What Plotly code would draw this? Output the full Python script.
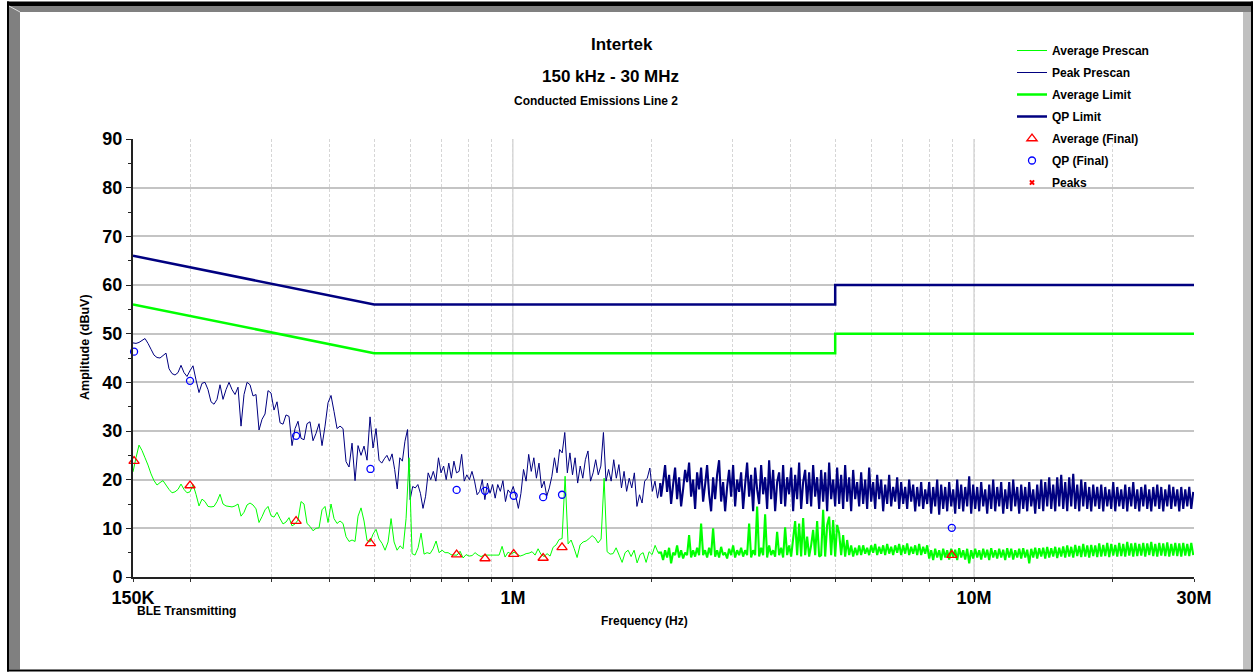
import numpy as np
import plotly.graph_objects as go

FONT = "Liberation Sans"

# ---------------- limit lines (dBuV) ----------------
limit_freq_hz = [150e3, 500e3, 5e6, 5e6, 30e6]
qp_limit_dbuv = [66, 56, 56, 60, 60]
avg_limit_dbuv = [56, 46, 46, 50, 50]

# ---------------- prescan sweep spans (Hz) ----------------
peak_lo_span = (150.0e3, 512.5e3)
peak_mid_span = (519.5e3, 2.086e6)
avg_lo_span = (150.0e3, 512.5e3)
avg_mid_span = (520.3e3, 2.065e6)
hi_span = (2.096e6, 29.89e6)

# ---------------- peak prescan (dBuV) ----------------
peak_lo_dbuv = [
    48.1, 48.0, 48.2, 48.6, 49.0, 48.0, 46.8, 45.6, 45.1, 45.0,
    45.5, 46.0, 42.8, 41.8, 41.5, 42.0, 43.5, 42.0, 41.2, 42.4,
    43.4, 40.5, 37.9, 39.8, 40.0, 38.5, 36.0, 35.5, 36.5, 39.5,
    36.5, 38.5, 40.0, 38.5, 37.5, 39.0, 31.0, 37.5, 40.0, 39.5,
    37.2, 37.5, 30.2, 32.4, 33.5, 38.3, 37.8, 34.3, 36.0, 31.7,
    31.4, 33.3, 33.0, 27.0, 30.5, 32.0, 28.5, 28.2, 31.5, 31.9,
    28.0, 29.5, 31.5, 27.0, 31.0, 35.8, 37.3, 34.0, 30.5, 31.0,
    30.5, 23.7, 22.6, 27.5, 19.8, 27.0, 25.0, 26.9, 24.0, 32.9,
    26.5, 30.5, 24.0,
]
peak_mid_dbuv = [
    23.4, 24.3, 25.0, 23.8, 25.3, 22.1, 18.1, 24.5, 23.8, 27.9,
    30.3, 15.9, 18.6, 18.3, 19.0, 17.2, 14.1, 16.6, 21.4, 20.0,
    21.7, 19.7, 24.5, 21.4, 22.8, 20.0, 23.4, 20.3, 23.8, 21.4,
    21.7, 25.2, 19.7, 21.0, 20.0, 21.7, 19.7, 16.9, 17.6, 20.0,
    15.9, 19.3, 17.2, 19.0, 16.2, 19.0, 17.6, 19.8, 15.5, 17.9,
    17.2, 18.6, 16.6, 14.1, 17.2, 22.1, 19.7, 25.2, 21.7, 24.5,
    20.3, 23.4, 18.3, 19.7, 16.6, 18.3, 20.7, 24.5, 21.4, 26.2,
    25.5, 29.7, 21.4, 25.5, 21.0, 24.5, 19.3, 22.8, 20.3, 24.1,
    25.9, 19.7, 21.4, 24.1, 21.0, 22.8, 29.7, 19.7, 22.1, 19.7,
    24.1, 20.3, 23.1, 18.3, 21.7, 17.6, 20.3, 18.3, 21.4, 14.5,
    16.9, 15.2, 19.7, 20.3, 22.4, 17.6, 19.7, 16.2, 19.3,
]
peak_hi_dbuv = [
    16.5, 19.5, 23.0, 17.5, 21.0, 15.0, 19.0, 22.5, 16.0, 20.5, 14.5, 18.0, 22.0, 19.5, 23.5, 16.5, 20.0, 14.0, 21.5, 18.0,
    22.5, 15.5, 19.0, 23.0, 17.0, 13.5, 20.5, 16.0, 21.0, 24.0, 15.5, 19.5, 13.5, 18.5, 22.0, 16.5, 23.0, 14.5, 20.0, 17.5,
    21.5, 14.0, 19.0, 23.5, 16.5, 21.0, 13.5, 22.5, 18.0, 15.0, 23.0, 17.0, 20.5, 14.0, 24.0, 16.0, 22.0, 13.5, 19.5, 21.5,
    15.0, 23.0, 14.5, 20.5, 17.0, 22.5, 13.5, 21.0, 16.0, 23.5, 14.0, 19.5, 22.0, 15.0, 21.5, 14.5, 23.0, 16.5, 20.5, 14.0,
    22.0, 15.5, 21.5, 13.5, 23.5, 16.0, 20.0, 14.5, 22.5, 15.0, 21.0, 14.0, 23.0, 15.5, 20.5, 13.5, 22.0, 16.0, 19.5, 14.5,
    21.5, 15.0, 20.0, 14.0, 22.5, 15.5, 19.5, 14.0, 21.0, 16.0, 20.0, 13.5, 19.0, 15.0, 21.0, 14.5, 18.5, 15.5, 20.5, 14.0,
    19.5, 15.0, 18.5, 14.0, 20.0, 15.5, 19.0, 13.5, 18.5, 14.5, 19.5, 14.0, 18.0, 15.0, 19.5, 13.0, 18.5, 14.5, 20.0, 12.8,
    19.0, 14.0, 18.5, 13.5, 19.5, 14.5, 18.0, 13.0, 20.0, 14.0, 19.0, 13.5, 18.5, 14.5, 20.7, 13.0, 19.0, 14.0, 18.5, 13.5,
    19.5, 14.5, 18.0, 13.0, 19.0, 14.0, 20.0, 13.5, 18.5, 14.5, 19.5, 13.0, 18.0, 14.0, 19.5, 13.5, 20.0, 14.5, 18.5, 13.0,
    19.0, 14.0, 18.5, 13.5, 19.5, 14.5, 18.0, 13.0, 19.0, 14.0, 20.0, 13.5, 19.5, 14.5, 20.5, 14.0, 19.0, 13.5, 20.5, 14.5,
    21.0, 14.0, 19.5, 13.5, 20.5, 14.5, 21.2, 14.0, 19.0, 13.5, 20.0, 14.5, 19.5, 14.0, 18.5, 13.5, 19.0, 14.5, 18.5, 14.0,
    19.0, 13.5, 18.5, 14.5, 18.0, 14.0, 19.5, 13.5, 18.5, 14.5, 18.0, 14.0, 19.0, 13.5, 18.5, 14.5, 19.5, 14.0, 18.0, 13.5,
    18.5, 14.5, 19.0, 14.0, 18.0, 13.5, 18.5, 14.5, 19.0, 14.0, 18.5, 13.5, 18.0, 14.5, 19.0, 14.0, 18.5, 14.5, 18.0, 13.5,
    18.5, 14.0, 18.0, 14.5, 18.5, 14.0, 17.5,
]

# ---------------- average prescan (dBuV) ----------------
avg_lo_dbuv = [
    21.6, 24.5, 27.1, 26.0, 24.5, 23.0, 21.2, 19.8, 18.9, 19.4,
    19.8, 18.9, 18.0, 17.3, 17.5, 18.0, 19.1, 18.0, 17.3, 17.5,
    19.0, 17.0, 14.6, 16.0, 15.5, 14.5, 14.4, 14.5, 15.5, 17.0,
    15.0, 14.6, 14.5, 14.4, 14.6, 15.0, 12.5, 13.3, 14.8, 15.2,
    14.8, 14.0, 11.2, 12.4, 13.8, 14.5, 12.6, 12.3, 13.3, 12.0,
    10.9, 11.3, 12.2, 10.5, 10.9, 11.7, 15.5, 15.0, 11.0, 10.4,
    9.5, 10.0, 10.1, 13.8, 14.5, 11.2, 15.0, 12.0, 11.0, 11.5,
    11.0, 8.3, 7.3, 7.6, 7.3, 12.5, 14.2, 11.5, 7.5, 7.2,
    8.8, 9.8, 7.8,
]
avg_mid_dbuv = [
    6.9, 5.5, 7.2, 12.0, 7.2, 5.5, 6.4, 5.8, 12.0, 24.5,
    4.8, 4.5, 6.0, 9.0, 4.7, 5.0, 4.8, 5.8, 7.4, 5.0,
    5.5, 5.0, 5.0, 4.6, 4.5, 4.5, 5.3, 3.9, 4.6, 4.3,
    4.4, 5.0, 4.5, 4.2, 4.5, 4.5, 4.5, 4.5, 4.5, 4.5,
    6.3, 4.1, 5.1, 4.7, 5.1, 4.7, 4.3, 4.5, 4.8, 4.9,
    5.2, 4.5, 5.8, 4.6, 4.2, 4.8, 4.3, 6.1, 6.6, 7.7,
    7.9, 20.7, 6.8, 7.6, 5.9, 4.0, 6.6, 7.2, 7.4, 7.9,
    8.5, 8.0, 7.0, 7.8, 20.3, 5.2, 4.7, 4.8, 6.0, 4.5,
    3.0, 5.0, 5.5, 4.2, 5.5, 2.9, 4.6, 5.0, 3.0, 5.2,
    4.6, 6.5, 5.0,
]
avg_hi_dbuv = [
    5.0, 3.5, 5.5, 4.0, 6.0, 2.8, 5.0, 4.5, 6.5, 4.0, 5.5, 3.8, 5.0, 4.5, 8.6, 4.0, 5.5, 4.2, 6.0, 4.5,
    11.0, 4.5, 5.5, 4.0, 6.0, 4.5, 10.0, 4.2, 5.5, 4.0, 6.2, 4.5, 5.0, 3.8, 5.8, 4.5, 6.5, 4.0, 5.5, 4.5,
    6.0, 4.2, 5.5, 4.5, 11.0, 4.0, 5.5, 4.5, 14.5, 4.2, 6.0, 4.5, 12.9, 4.0, 6.5, 4.5, 5.5, 4.2, 9.3, 4.5,
    6.0, 4.0, 10.2, 4.5, 6.5, 4.2, 7.9, 11.5, 4.5, 11.0, 4.2, 12.1, 4.5, 8.3, 4.2, 6.5, 9.7, 4.5, 11.5, 4.2,
    4.5, 13.8, 4.2, 10.7, 12.4, 4.5, 11.7, 4.2, 10.7, 9.0, 4.5, 8.6, 4.2, 7.6, 4.5, 6.5, 4.2, 6.0, 4.5, 6.5,
    4.5, 6.5, 4.8, 6.0, 4.5, 6.5, 5.0, 6.8, 4.5, 6.2, 4.8, 6.5, 4.5, 6.8, 4.8, 6.2, 4.5, 6.5, 5.0, 6.8,
    4.5, 6.5, 4.8, 6.9, 4.5, 6.2, 4.8, 6.5, 4.5, 6.8, 4.5, 6.2, 4.8, 6.5, 3.8, 5.5, 3.5, 5.8, 4.0, 5.5,
    3.5, 5.8, 4.0, 5.5, 3.6, 5.8, 4.0, 5.6, 3.5, 5.9, 4.0, 5.5, 3.6, 5.8, 2.8, 5.5, 3.8, 5.8, 4.0, 5.5,
    3.6, 5.8, 4.0, 5.6, 3.5, 5.9, 4.0, 5.5, 3.8, 5.8, 4.0, 5.6, 3.5, 5.9, 4.0, 5.8, 3.6, 5.5, 4.0, 5.8,
    3.8, 5.9, 4.0, 5.6, 2.8, 5.8, 4.0, 6.0, 3.8, 5.9, 4.2, 6.0, 3.8, 6.2, 4.0, 5.9, 4.2, 6.2, 3.9, 6.0,
    4.2, 6.3, 4.0, 6.5, 4.2, 6.2, 4.0, 6.6, 4.3, 6.4, 4.1, 6.8, 4.2, 6.5, 4.0, 6.6, 4.3, 6.5, 4.1, 6.9,
    4.2, 6.6, 4.3, 7.0, 4.1, 6.8, 4.4, 6.6, 4.2, 7.0, 4.3, 6.8, 4.2, 7.2, 4.4, 6.9, 4.2, 7.0, 4.3, 6.8,
    4.4, 7.0, 4.2, 6.9, 4.5, 7.2, 4.3, 6.8, 4.2, 7.0, 4.4, 6.9, 4.3, 7.1, 4.2, 6.8, 4.4, 7.0, 4.3, 6.9,
    4.2, 7.0, 4.4, 6.8, 4.3, 7.0, 4.5,
]

# ---------------- final measurements ----------------
final_freq_hz = [0.1508e6, 0.1994e6, 0.3387e6, 0.491e6, 0.755e6,
                 0.870e6, 1.004e6, 1.163e6, 1.278e6, 8.95e6]
avg_final_dbuv = [23.8, 18.8, 11.5, 6.9, 4.6, 3.8, 4.7, 3.9, 6.1, 4.5]
qp_final_dbuv = [46.3, 40.3, 29.0, 22.2, 17.9, 17.7, 16.7, 16.4, 16.9, 10.1]

# ---------------- axis ticks ----------------
x_label_vals = [150e3, 1e6, 10e6, 30e6]
x_label_text = ["150K", "1M", "10M", "30M"]
y_tick_vals = list(range(0, 91, 10))


def sweep(span, values):
    """Receiver sweep frequencies for a block of readings."""
    return np.geomspace(span[0], span[1], len(values))


# sparse (low band) and dense (high band) parts of each prescan
peak_low_freq = np.concatenate([sweep(peak_lo_span, peak_lo_dbuv),
                                sweep(peak_mid_span, peak_mid_dbuv)])
peak_low_level = np.concatenate([peak_lo_dbuv, peak_mid_dbuv])
peak_high_freq = np.concatenate([peak_low_freq[-1:], sweep(hi_span, peak_hi_dbuv)])
peak_high_level = np.concatenate([peak_low_level[-1:], peak_hi_dbuv])

avg_low_freq = np.concatenate([sweep(avg_lo_span, avg_lo_dbuv),
                               sweep(avg_mid_span, avg_mid_dbuv)])
avg_low_level = np.concatenate([avg_lo_dbuv, avg_mid_dbuv])
avg_high_freq = np.concatenate([avg_low_freq[-1:], sweep(hi_span, avg_hi_dbuv)])
avg_high_level = np.concatenate([avg_low_level[-1:], avg_hi_dbuv])

# grid / tick positions at every 1..9 x decade inside the band
grid_freq = sorted({m * 10.0 ** e for e in (5, 6, 7) for m in range(1, 10)
                    if 150e3 <= m * 10.0 ** e <= 30e6} | set(x_label_vals))
grid_text = [x_label_text[x_label_vals.index(f)] if f in x_label_vals else ""
             for f in grid_freq]

NAVY = "#000080"
LIME = "#00ff00"

fig = go.Figure()
fig.add_trace(go.Scatter(x=peak_low_freq, y=peak_low_level, mode="lines", name="Peak Prescan",
                         line=dict(color=NAVY, width=1, simplify=False), legendrank=2,
                         legendgroup="b"))
fig.add_trace(go.Scatter(x=peak_high_freq, y=peak_high_level, mode="lines", name="Peak Prescan",
                         line=dict(color=NAVY, width=2.1, simplify=False), legendgroup="b",
                         showlegend=False))
fig.add_trace(go.Scatter(x=avg_low_freq, y=avg_low_level, mode="lines", name="Average Prescan",
                         line=dict(color=LIME, width=1, simplify=False), legendrank=1,
                         legendgroup="a"))
fig.add_trace(go.Scatter(x=avg_high_freq, y=avg_high_level, mode="lines", name="Average Prescan",
                         line=dict(color=LIME, width=2.1, simplify=False), legendgroup="a",
                         showlegend=False))
fig.add_trace(go.Scatter(x=limit_freq_hz, y=avg_limit_dbuv, mode="lines", name="Average Limit",
                         line=dict(color=LIME, width=2.5), legendrank=3, legendgroup="c"))
fig.add_trace(go.Scatter(x=limit_freq_hz, y=qp_limit_dbuv, mode="lines", name="QP Limit",
                         line=dict(color=NAVY, width=2.5), legendrank=4, legendgroup="d"))
fig.add_trace(go.Scatter(x=final_freq_hz, y=avg_final_dbuv, mode="markers", name="Average (Final)",
                         marker=dict(symbol="triangle-up-open", size=9, color="#ff0000",
                                     line=dict(width=1.3)),
                         cliponaxis=False, legendrank=5, legendgroup="e"))
fig.add_trace(go.Scatter(x=final_freq_hz, y=qp_final_dbuv, mode="markers", name="QP (Final)",
                         marker=dict(symbol="circle-open", size=7, color="#0000ff",
                                     line=dict(width=1.3)),
                         cliponaxis=False, legendrank=6, legendgroup="f"))
fig.add_trace(go.Scatter(x=[None], y=[None], mode="markers", name="Peaks",
                         marker=dict(symbol="x", size=5, color="#ff0000"),
                         legendrank=7, legendgroup="g"))

# plot area: x 133..1194 px, y 139..577 px
L, T, W, H = 133, 139, 1061, 438


def fx(px):
    return (px - L) / W


def fy(py):
    return (T + H - py) / H


def rect(x0, y0, x1, y1, color, layer="above"):
    return dict(type="rect", xref="paper", yref="paper", x0=fx(x0), x1=fx(x1),
                y0=fy(y0), y1=fy(y1), fillcolor=color, line=dict(width=0), layer=layer)


shapes = [
    # white panel behind the legend
    rect(1005, 30, 1205, 191, "white", layer="between"),
    # decade grid lines
    dict(type="line", xref="x", yref="paper", x0=1e6, x1=1e6, y0=0, y1=1,
         line=dict(color="#c4c4c4", width=1), layer="between"),
    dict(type="line", xref="x", yref="paper", x0=1e7, x1=1e7, y0=0, y1=1,
         line=dict(color="#c4c4c4", width=1), layer="between"),
    # outer bevelled frame
    rect(7, 1.5, 1253, 6, "black"),
    rect(9, 6, 1251, 12, "#808080"),
    rect(9, 12, 20, 669.5, "#808080"),
    rect(1243, 12, 1251, 669.5, "#c0c0c0"),
    rect(7, 1.5, 9, 671.5, "black"),
    rect(1251, 1.5, 1253, 671.5, "black"),
    rect(7, 669.5, 1253, 671.5, "black"),
    dict(type="line", xref="paper", yref="paper", x0=fx(9), y0=fy(6), x1=fx(20), y1=fy(12),
         line=dict(color="#e0e0e0", width=1)),
]

bold = dict(family=FONT, color="black", weight="bold")


def note(text, px, py, size, **kw):
    return dict(text=text, xref="paper", yref="paper", x=fx(px), y=fy(py), showarrow=False,
                font=dict(size=size, **bold), xanchor=kw.pop("xanchor", "center"),
                yanchor="middle", **kw)


annotations = [
    note("Intertek", 622, 45, 17),
    note("150 kHz - 30 MHz", 610, 76, 17),
    note("Conducted Emissions Line 2", 596, 101, 12),
    note("Amplitude (dBuV)", 85, 347, 12.5, textangle=-90),
    note("Frequency (Hz)", 644, 621, 12),
    note("BLE Transmitting", 135, 611, 12, xanchor="left"),
]

fig.update_layout(
    width=1255, height=672,
    margin=dict(l=L, r=1255 - L - W, t=T, b=672 - T - H, pad=0),
    paper_bgcolor="white", plot_bgcolor="white",
    showlegend=True,
    legend=dict(x=fx(1012), y=fy(36), xanchor="left", yanchor="top",
                bgcolor="rgba(0,0,0,0)", font=dict(size=12, **bold),
                tracegroupgap=3, itemwidth=30, traceorder="grouped"),
    shapes=shapes, annotations=annotations,
    xaxis=dict(type="log", range=[np.log10(150e3), np.log10(30e6)],
               tickmode="array", tickvals=grid_freq, ticktext=grid_text,
               ticks="outside", ticklen=3, tickcolor="#333333", tickwidth=1,
               showline=True, linecolor="#222222", linewidth=2,
               showgrid=True, gridcolor="#d6d6d6", gridwidth=1, griddash="3px,2px",
               zeroline=False, tickfont=dict(size=18, **bold)),
    yaxis=dict(range=[0, 90], tickmode="array", tickvals=y_tick_vals,
               ticks="outside", ticklen=5, tickcolor="#222222", tickwidth=1,
               showline=True, linecolor="#222222", linewidth=2,
               showgrid=True, gridcolor="#c4c4c4", gridwidth=1.5, zeroline=False,
               minor=dict(dtick=5, tick0=0, ticks="outside", ticklen=3,
                          tickcolor="#222222", showgrid=False),
               tickfont=dict(size=18, **bold)),
)

fig.write_html("out.html")
